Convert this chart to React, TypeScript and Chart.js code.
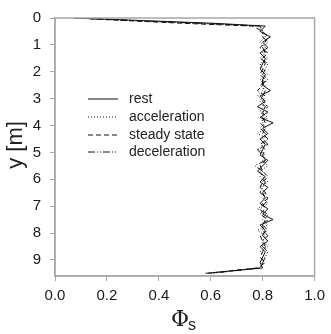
import React, { useEffect, useRef } from "react";
import { Chart, registerables } from "chart.js";

Chart.register(...registerables);

const depths = [0, 0.1, 0.2, 0.3, 0.5, 0.7, 0.9, 1.1, 1.3, 1.5, 1.7, 1.9, 2.1, 2.3, 2.5, 2.7, 2.9, 3.1, 3.3, 3.5, 3.7, 3.9, 4.1, 4.3, 4.5, 4.7, 4.9, 5.1, 5.3, 5.5, 5.7, 5.9, 6.1, 6.3, 6.5, 6.7, 6.9, 7.1, 7.3, 7.5, 7.7, 7.9, 8.1, 8.3, 8.5, 8.7, 8.9, 9.1, 9.3, 9.5];

const rest = [0.07, 0.35, 0.62, 0.81, 0.79, 0.83, 0.8, 0.82, 0.79, 0.81, 0.8, 0.79, 0.81, 0.8, 0.8, 0.83, 0.79, 0.81, 0.78, 0.82, 0.79, 0.84, 0.8, 0.82, 0.79, 0.81, 0.8, 0.79, 0.82, 0.8, 0.78, 0.81, 0.79, 0.82, 0.8, 0.81, 0.79, 0.82, 0.8, 0.84, 0.79, 0.81, 0.8, 0.82, 0.79, 0.81, 0.8, 0.79, 0.8, 0.58];
const acceleration = [0.09, 0.3, 0.55, 0.78, 0.8, 0.81, 0.79, 0.81, 0.8, 0.82, 0.79, 0.8, 0.82, 0.79, 0.81, 0.8, 0.78, 0.81, 0.8, 0.79, 0.82, 0.8, 0.81, 0.78, 0.82, 0.8, 0.79, 0.81, 0.8, 0.82, 0.79, 0.8, 0.82, 0.79, 0.81, 0.8, 0.82, 0.79, 0.81, 0.8, 0.82, 0.78, 0.81, 0.8, 0.82, 0.79, 0.81, 0.8, 0.79, 0.6];
const steadyState = [0.07, 0.28, 0.5, 0.76, 0.8, 0.82, 0.81, 0.79, 0.82, 0.8, 0.81, 0.8, 0.79, 0.81, 0.8, 0.78, 0.81, 0.8, 0.82, 0.8, 0.81, 0.79, 0.81, 0.8, 0.82, 0.79, 0.81, 0.8, 0.81, 0.79, 0.8, 0.82, 0.8, 0.79, 0.81, 0.82, 0.8, 0.81, 0.79, 0.82, 0.8, 0.82, 0.79, 0.8, 0.81, 0.8, 0.79, 0.81, 0.78, 0.59];
const deceleration = [0.08, 0.32, 0.58, 0.79, 0.8, 0.8, 0.82, 0.8, 0.81, 0.79, 0.82, 0.81, 0.8, 0.82, 0.79, 0.81, 0.8, 0.79, 0.81, 0.8, 0.8, 0.81, 0.79, 0.81, 0.8, 0.82, 0.78, 0.8, 0.81, 0.77, 0.8, 0.79, 0.81, 0.8, 0.79, 0.82, 0.81, 0.78, 0.82, 0.81, 0.8, 0.8, 0.82, 0.8, 0.8, 0.82, 0.81, 0.8, 0.79, 0.6];

const seriesLabels = ["rest", "acceleration", "steady state", "deceleration"];
const seriesValues = [rest, acceleration, steadyState, deceleration];
const seriesDashes = [[], [1, 2], [5, 3], [7, 2, 1, 2, 1, 2]];

const xTicks = [0, 0.2, 0.4, 0.6, 0.8, 1.0];
const yTicks = [0, 1, 2, 3, 4, 5, 6, 7, 8, 9];

const FONT = "'Liberation Sans', Arial, sans-serif";

const framePlugin = {
  id: "frameAndTitles",
  afterDraw(chart: any) {
    const { ctx, chartArea } = chart;
    const { left, right, top, bottom } = chartArea;
    ctx.save();
    ctx.strokeStyle = "#a8a8a8";
    ctx.lineWidth = 1.5;
    ctx.strokeRect(left, top, right - left, bottom - top);

    // legend
    const rows = [99, 117, 135, 152];
    chart.data.datasets.forEach((ds: any, i: number) => {
      const y = rows[i];
      ctx.strokeStyle = "#111";
      ctx.lineWidth = 1;
      ctx.setLineDash(ds.borderDash || []);
      ctx.beginPath();
      ctx.moveTo(88, y);
      ctx.lineTo(118, y);
      ctx.stroke();
      ctx.setLineDash([]);
      ctx.fillStyle = "#222";
      ctx.font = `14px ${FONT}`;
      ctx.textAlign = "left";
      ctx.textBaseline = "middle";
      ctx.fillText(ds.label, 129, y);
    });

    // y title
    ctx.save();
    ctx.translate(16, 145);
    ctx.rotate(-Math.PI / 2);
    ctx.fillStyle = "#222";
    ctx.font = `22px ${FONT}`;
    ctx.textAlign = "center";
    ctx.textBaseline = "middle";
    ctx.fillText("y [m]", 0, 0);
    ctx.restore();

    // x title
    ctx.fillStyle = "#222";
    ctx.font = `22px 'DejaVu Serif', 'Liberation Serif', serif`;
    ctx.textAlign = "center";
    ctx.textBaseline = "middle";
    ctx.fillText("Φ", 180, 320);
    ctx.font = `16px ${FONT}`;
    ctx.textAlign = "left";
    ctx.fillText("s", 188, 326);
    ctx.restore();
  },
};

export default function App() {
  const ref = useRef<HTMLCanvasElement>(null);
  useEffect(() => {
    document.body.style.margin = "0";
    const canvas = ref.current!;
    const chart = new Chart(canvas, {
      type: "line",
      data: {
        datasets: seriesLabels.map((label, i) => ({
          label,
          data: seriesValues[i].map((v, j) => ({ x: v, y: depths[j] })),
          borderColor: "#111",
          borderWidth: 1,
          borderDash: seriesDashes[i],
          pointRadius: 0,
          fill: false,
          tension: 0,
        })),
      },
      options: {
        animation: false,
        responsive: false,
        parsing: false,
        layout: { padding: { top: 14, right: 13, left: 0, bottom: 0 } },
        plugins: { legend: { display: false }, tooltip: { enabled: false } },
        scales: {
          x: {
            type: "linear",
            min: 0,
            max: 1,
            afterFit: (s: any) => { s.height = 58; },
            afterBuildTicks: (s: any) => { s.ticks = xTicks.map((v) => ({ value: v })); },
            ticks: {
              callback: (v: any) => Number(v).toFixed(1),
              font: { size: 15, family: FONT },
              color: "#1a1a1a",
              padding: 6,
              maxRotation: 0,
            },
            grid: { drawOnChartArea: false, drawTicks: true, tickLength: 5, color: "#a8a8a8", lineWidth: 1 },
            border: { color: "#a8a8a8", width: 1.5 },
          },
          y: {
            type: "linear",
            reverse: true,
            min: 0,
            max: 9.6,
            afterFit: (s: any) => { s.width = 55; },
            afterBuildTicks: (s: any) => { s.ticks = yTicks.map((v) => ({ value: v })); },
            ticks: {
              callback: (v: any) => String(v),
              font: { size: 15, family: FONT },
              color: "#1a1a1a",
              padding: 9,
            },
            grid: { drawOnChartArea: false, drawTicks: true, tickLength: 5, color: "#a8a8a8", lineWidth: 1 },
            border: { color: "#a8a8a8", width: 1.5 },
          },
        },
      },
      plugins: [framePlugin],
    });
    return () => chart.destroy();
  }, []);
  return (
    <div style={{ width: 331, height: 334, background: "#fff" }}>
      <canvas ref={ref} width={331} height={334} style={{ display: "block" }} />
    </div>
  );
}
